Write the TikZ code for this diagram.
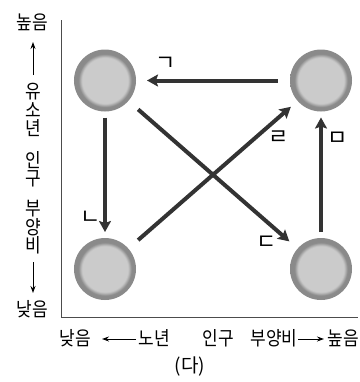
\documentclass[tikz,border=0pt]{standalone}
\usepackage{fontspec}
\setmainfont{Noto Sans CJK KR}
\usetikzlibrary{arrows.meta}
\definecolor{ringc}{HTML}{8A8A8A}
\definecolor{fillc}{HTML}{CBCBCB}
\definecolor{arrc}{HTML}{333333}
\pgfdeclareradialshading{ballshade}{\pgfpoint{0bp}{0bp}}{color(0bp)=(fillc); color(18.5bp)=(fillc); color(21.5bp)=(ringc); color(25bp)=(ringc); color(50bp)=(ringc)}
\tikzset{
  ball/.style={circle, minimum size=62bp, inner sep=0pt, outer sep=0pt, shading=ballshade},
  flow/.style={line width=4bp, draw=arrc, -{Stealth[length=11bp,width=12bp,inset=2bp]}},
  lbl/.style={font=\fontsize{22bp}{24bp}\selectfont, inner sep=0pt},
  axtxt/.style={font=\fontsize{17bp}{16.2bp}\selectfont, inner sep=0pt, align=center, yscale=1.14, transform shape},
  captxt/.style={font=\fontsize{19bp}{20bp}\selectfont, inner sep=0pt},
  axarr/.style={line width=0.9bp, -{Stealth[length=7bp,width=5bp]}},
  axis/.style={line width=0.8bp, draw=black!70}
}
\begin{document}
\begin{tikzpicture}[x=1bp,y=-1bp]
\useasboundingbox (0,0) rectangle (360,382);
% axes
\coordinate (ytop) at (61,20);
\coordinate (orig) at (61,317.5);
\coordinate (xend) at (358,317.5);
\draw[axis] (ytop) -- (orig) -- (xend);
% circles
\node[ball] (tl) at (105,80.5) {};
\node[ball] (tr) at (321,80.5) {};
\node[ball] (bl) at (105,269) {};
\node[ball] (br) at (321,269) {};
% flows
\draw[flow, shorten <=12bp, shorten >=11bp] (tr) -- (tl);
\draw[flow, shorten <=6bp, shorten >=6bp] (tl) -- (bl);
\draw[flow, shorten <=13bp, shorten >=11bp] (tl) -- (br);
\draw[flow, shorten <=13bp, shorten >=9bp] (bl) -- (tr);
\draw[flow, shorten <=6bp, shorten >=6bp] (br) -- (tr);
% flow labels
\node[lbl] (la) at (166,64) {ㄱ};
\node[lbl] (lb) at (91,218) {ㄴ};
\node[lbl] (lc) at (267,243) {ㄷ};
\node[lbl] (ld) at (279,138) {ㄹ};
\node[lbl] (le) at (338,139) {ㅁ};
% vertical axis labels
\node[axtxt] (vhigh) at (32,22) {높음};
\node[axtxt] (vw1) at (33,110) {유\\소\\년};
\node[axtxt] (vw2) at (33,169.5) {인\\구};
\node[axtxt] (vw3) at (33,227.5) {부\\양\\비};
\node[axtxt] (vlow) at (32,309) {낮음};
\coordinate (vua) at (33,75);
\coordinate (vub) at (33,42);
\coordinate (vda) at (33,262);
\coordinate (vdb) at (33,293);
\draw[axarr] (vua) -- (vub);
\draw[axarr] (vda) -- (vdb);
% horizontal axis labels
\node[axtxt] (hlow) at (75.5,338) {낮음};
\node[axtxt] (hw1) at (154.5,338) {노년};
\node[axtxt] (hw2) at (218.5,338) {인구};
\node[axtxt] (hw3) at (274,338) {부양비};
\node[axtxt] (hhigh) at (343.5,338) {높음};
\coordinate (hla) at (136,339);
\coordinate (hlb) at (102,339);
\coordinate (hra) at (298,339);
\coordinate (hrb) at (324,339);
\draw[axarr] (hla) -- (hlb);
\draw[axarr] (hra) -- (hrb);
% caption
\node[captxt] (cap) at (190,367) {(다)};
\end{tikzpicture}
\end{document}
